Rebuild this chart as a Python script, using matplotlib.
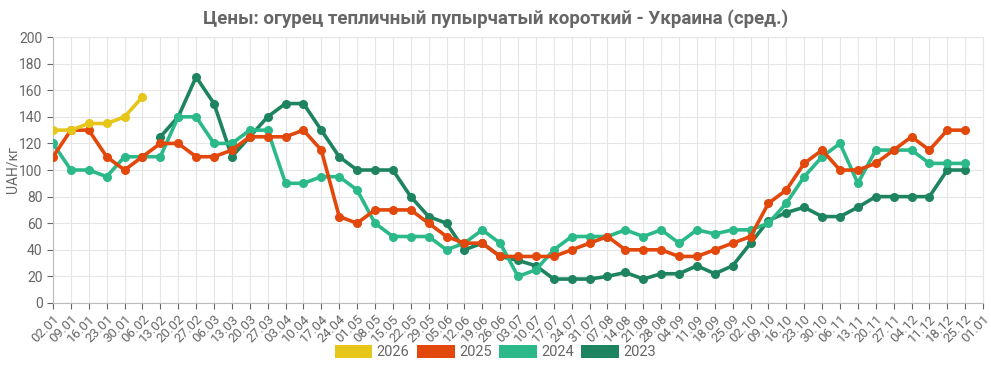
import numpy as np
import matplotlib.pyplot as plt
from matplotlib.patches import Patch

plt.rcParams['font.family'] = ['Roboto', 'DejaVu Sans']

weeks = ['02.01', '09.01', '16.01', '23.01', '30.01', '06.02', '13.02', '20.02', '27.02',
         '06.03', '13.03', '20.03', '27.03', '03.04', '10.04', '17.04', '24.04', '01.05',
         '08.05', '15.05', '22.05', '29.05', '05.06', '12.06', '19.06', '26.06', '03.07',
         '10.07', '17.07', '24.07', '31.07', '07.08', '14.08', '21.08', '28.08', '04.09',
         '11.09', '18.09', '25.09', '02.10', '09.10', '16.10', '23.10', '30.10', '06.11',
         '13.11', '20.11', '27.11', '04.12', '11.12', '18.12', '25.12', '01.01']

y2026 = [130, 130, 135, 135, 140, 155]
y2025 = [110, 130, 130, 110, 100, 110, 120, 120, 110, 110, 115, 125, 125, 125, 130, 115,
         65, 60, 70, 70, 70, 60, 50, 45, 45, 35, 35, 35, 35, 40, 45, 50, 40, 40, 40, 35,
         35, 40, 45, 50, 75, 85, 105, 115, 100, 100, 105, 115, 125, 115, 130, 130]
y2024 = [120, 100, 100, 95, 110, 110, 110, 140, 140, 120, 120, 130, 130, 90, 90, 95,
         95, 85, 60, 50, 50, 50, 40, 45, 55, 45, 20, 25, 40, 50, 50, 50, 55, 50, 55, 45,
         55, 52, 55, 55, 60, 75, 95, 110, 120, 90, 115, 115, 115, 105, 105, 105]
# 2023 starts from 13.02
y2023 = [None] * 6 + [125, 140, 170, 150, 110, 125, 140, 150, 150, 130, 110, 100, 100,
                      100, 80, 65, 60, 40, 45, 35, 32, 28, 18, 18, 18, 20, 23, 18, 22,
                      22, 28, 22, 28, 45, 62, 68, 72, 65, 65, 72, 80, 80, 80, 80, 100, 100]

series = [('2026', y2026, '#e6c619'),
          ('2025', y2025, '#e2480c'),
          ('2024', y2024, '#2bb98a'),
          ('2023', y2023, '#1e8460')]

fig = plt.figure(figsize=(9.91, 3.67), dpi=100)
ax = fig.add_axes([0.0535, 0.1744, 0.9385, 0.7246])

x = np.arange(len(weeks))
for name, vals, col in series[::-1]:
    v = np.array([np.nan if a is None else a for a in vals], dtype=float)
    ax.plot(x[:len(v)], v, color=col, lw=2.6, marker='o', ms=5.5, zorder=3)

ax.set_xlim(0, len(weeks) - 1)
ax.set_ylim(0, 200)
ax.set_yticks(range(0, 201, 20))
ax.set_xticks(x)
ax.set_xticklabels(weeks, rotation=45, ha='right', va='top', rotation_mode='anchor')
ax.tick_params(colors='#666666', labelsize=10, length=4, width=0.8)
ax.tick_params(axis='x', labelsize=9.5, pad=3)
ax.grid(True, color='#e6e6e6', lw=0.8)
ax.set_axisbelow(True)
for s in ['top', 'right']:
    ax.spines[s].set_color('#e6e6e6')
for s in ['left', 'bottom']:
    ax.spines[s].set_color('#bbbbbb')
ax.set_ylabel('UAH/кг', color='#666666', fontsize=10, labelpad=0)

fig.suptitle('Цены: огурец тепличный пупырчатый короткий - Украина (сред.)',
             x=0.5, y=0.975, fontsize=13.5, fontweight='bold', color='#666666')

handles = [Patch(facecolor=c, edgecolor='none', label=n) for n, _, c in series]
fig.legend(handles=handles, loc='center', ncol=4, frameon=False,
           bbox_to_anchor=(0.5, 0.04), handlelength=2.6, handleheight=0.95,
           columnspacing=0.5, handletextpad=0.3, fontsize=10.5, labelcolor='#666666')

fig.savefig('out.png', dpi=100)
